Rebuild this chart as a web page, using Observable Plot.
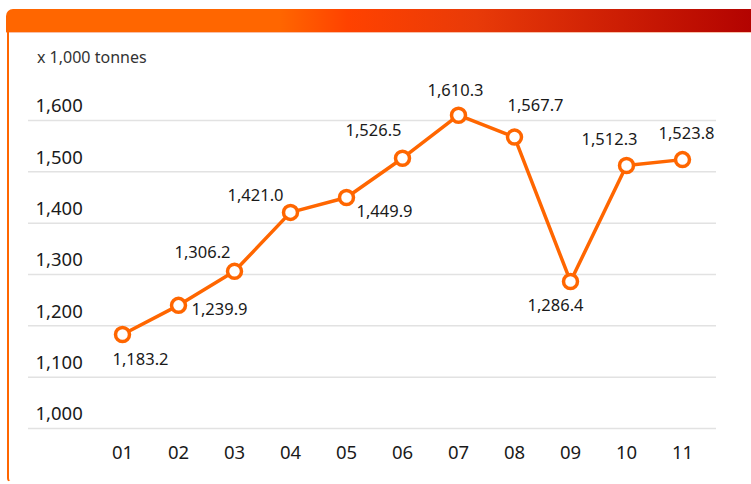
<!DOCTYPE html>
<html>
<head>
<meta charset="utf-8">
<script src="https://cdn.jsdelivr.net/npm/d3@7"></script>
<script src="https://cdn.jsdelivr.net/npm/@observablehq/plot@0.6"></script>
<style>
  html, body { margin: 0; padding: 0; background: #fff; }
  #wrap { position: relative; width: 751px; height: 484px; overflow: hidden; font-family: "Noto Sans", "Open Sans", sans-serif; }
  #bar { position: absolute; left: 6px; top: 9px; width: 760px; height: 23px; border-top-left-radius: 7px;
         background: linear-gradient(to right, #ff6600 0%, #ff6600 36%, #ff4200 45%, #e83a08 62%, #b00000 100%);
         border-bottom: 1px solid #f8c0a8; }
  #side { position: absolute; left: 7px; top: 32px; width: 20px; height: 450px; border-left: 2px solid #ff6600;
          border-bottom: 1px solid #ffd7bf; border-bottom-left-radius: 4px; box-sizing: border-box; border-bottom-color: transparent; }
  #unit { position: absolute; left: 37px; top: 46px; font-size: 16px; color: #333; }
  #chart { position: absolute; left: 0; top: 0; }
</style>
</head>
<body>
<div id="wrap">
  <div id="bar"></div>
  <div id="side"></div>
  <div id="unit">x 1,000 tonnes</div>
  <div id="chart"></div>
</div>
<script>
const months = ["01","02","03","04","05","06","07","08","09","10","11"];
const values = [1183.2, 1239.9, 1306.2, 1421.0, 1449.9, 1526.5, 1610.3, 1567.7, 1286.4, 1512.3, 1523.8];
const yTicks = [1000, 1100, 1200, 1300, 1400, 1500, 1600];

const data = months.map((m, i) => ({m, v: values[i]}));
const fmt = d3.format(",.1f");
const fmtTick = d3.format(",");

// label offsets (layout only) relative to each point
const labelOffsets = [[18,25],[41,4],[-32,-19],[-35,-17],[38,14],[-29,-28],[-3,-24],[21,-31],[-15,24],[-17,-26],[4,-26]];

const orange = "#ff6600";
const labelMarks = data.map((d, i) => Plot.text([d], {
  x: "m", y: "v", text: dd => fmt(dd.v),
  dx: labelOffsets[i][0], dy: labelOffsets[i][1],
  fontSize: 16.5, fill: "#1a1a1a", textAnchor: "middle", lineAnchor: "middle"
}));

const chart = Plot.plot({
  width: 751,
  height: 484,
  marginLeft: 28,
  marginRight: 35,
  marginTop: 120,
  marginBottom: 56,
  style: {fontFamily: "'Noto Sans', 'Open Sans', sans-serif", background: "transparent", overflow: "visible"},
  x: {type: "point", domain: months, padding: 1.11, align: 0.736, axis: null},
  y: {domain: [1000, 1600], axis: null},
  marks: [
    Plot.ruleY(yTicks, {stroke: "#e2e2e2", strokeWidth: 1.5}),
    Plot.text(yTicks, {y: d => d, text: d => fmtTick(d), frameAnchor: "left", textAnchor: "start", dx: 7, dy: -14, fontSize: 18.5, fill: "#1a1a1a", lineAnchor: "middle"}),
    Plot.text(months, {x: d => d, text: d => d, frameAnchor: "bottom", dy: 25, fontSize: 18.5, fill: "#1a1a1a", lineAnchor: "middle"}),
    Plot.line(data, {x: "m", y: "v", stroke: orange, strokeWidth: 3.5}),
    Plot.dot(data, {x: "m", y: "v", r: 7, fill: "white", stroke: orange, strokeWidth: 3.5}),
    ...labelMarks
  ]
});
document.getElementById("chart").appendChild(chart);
</script>
</body>
</html>
